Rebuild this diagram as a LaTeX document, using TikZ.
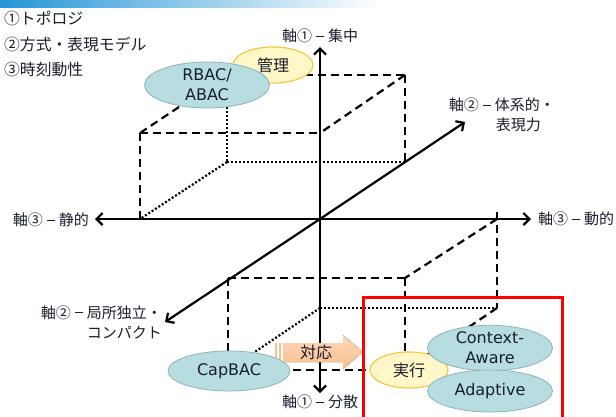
\documentclass[tikz,border=0pt]{standalone}
\usepackage{fontspec}
\setmainfont{Noto Sans CJK JP}
\newfontfamily\latf{DejaVu Sans}
\usetikzlibrary{arrows.meta,shapes.geometric}
\definecolor{tealfill}{RGB}{183,221,224}
\definecolor{tealline}{RGB}{140,180,186}
\definecolor{yelfill}{RGB}{255,247,200}
\definecolor{yelline}{RGB}{245,200,70}
\definecolor{peach}{RGB}{250,192,143}
\definecolor{peachlt}{RGB}{252,215,185}
\definecolor{txt}{RGB}{25,30,45}
\definecolor{barblue}{RGB}{35,150,215}
\newcommand{\axdash}{\makebox[16pt][c]{\rule[0.32em]{8pt}{1.3pt}}}
\tikzset{
  axisline/.style={line width=2.2pt,-{Straight Barb[length=6pt,width=12pt]}},
  dashedge/.style={line width=2.2pt,dash pattern=on 8pt off 5pt},
  dotedge/.style={line width=2.2pt,dash pattern=on 2pt off 2pt},
  axlabel/.style={font=\fontsize{15}{20}\selectfont,text=txt,inner sep=0pt},
  legend/.style={font=\fontsize{15.8}{18}\selectfont,text=txt,anchor=west,inner sep=0pt},
  tealell/.style={ellipse,draw=tealline,fill=tealfill,line width=0.8pt,inner sep=0pt,text=txt,align=center,font=\latf\fontsize{16}{20}\selectfont},
  yelell/.style={ellipse,draw=yelline,fill=yelfill,line width=1.2pt,inner sep=0pt,text=txt,font=\fontsize{16}{20}\selectfont}
}
\begin{document}
\begin{tikzpicture}[x=1pt,y=-1pt]
\useasboundingbox (0,0) rectangle (616,416);
\fill[white] (0,0) rectangle (616,416);
% top bar
\shade[left color=barblue,right color=white] (0,0) rectangle (380,7);

% legend
\node[legend] (l1) at (4,18) {①トポロジ};
\node[legend] (l2) at (4,44) {②方式・表現モデル};
\node[legend] (l3) at (4,69) {③時刻動性};

% coordinates
\coordinate (O) at (320,219);
% upper cube
\coordinate (UFTL) at (140,133);
\coordinate (UFTR) at (320,133);
\coordinate (UFBL) at (140,219);
\coordinate (UBTL) at (227,75);
\coordinate (UBTR) at (405,75);
\coordinate (UBBL) at (227,162);
\coordinate (UBBR) at (405,162);
% lower cube
\coordinate (LBTR) at (497,219);
\coordinate (LBBL) at (320,308);
\coordinate (LBBR) at (497,308);
\coordinate (LFTL) at (228,278);
\coordinate (LFTR) at (405,278);
\coordinate (LFBL) at (228,370);
\coordinate (LFBR) at (405,370);

% upper cube edges
\draw[dashedge] (UFTL) -- (UFTR);
\draw[dashedge] (UFTL) -- ([yshift=-3pt]UFBL);
\draw[dashedge] (UFTL) -- (UBTL);
\draw[dashedge] (UBTL) -- (UBTR);
\draw[dashedge] (UBTR) -- (UFTR);
\draw[dashedge] (UBTR) -- (UBBR);
\draw[dotedge] (UBTL) -- (UBBL);
\draw[dotedge] (UBBL) -- (UBBR);
\draw[dotedge] (UBBL) -- (UFBL);

% lower cube edges
\draw[dashedge] ([yshift=7pt]LBTR) -- (LBBR);
\draw[dashedge] (LBTR) -- (LFTR);
\draw[dashedge] (LFTL) -- (LFTR);
\draw[dashedge] (LFTL) -- (LFBL);
\draw[dashedge] (LFTR) -- (LFBR);
\draw[dashedge] (LFBL) -- (LFBR);
\draw[dashedge] (LBBR) -- (LFBR);
\draw[dotedge] (LBBL) -- (LBBR);
\draw[dotedge] (LBBL) -- (LFBL);

% axis end coordinates
\coordinate (A1t) at (320,47);
\coordinate (A1b) at (320,393);
\coordinate (A3l) at (95,219);
\coordinate (A3r) at (531,219);
\coordinate (A2u) at (465,122);
\coordinate (A2d) at (165,322);

\draw[axisline] (O) -- (A1t);
\draw[axisline] (O) -- (A1b);
\draw[axisline] (O) -- (A3l);
\draw[axisline] (O) -- (A3r);
\draw[axisline] (O) -- (A2u);
\draw[axisline] (O) -- (A2d);

% axis labels
\node[axlabel] (t1) at (320,36) {軸①\axdash 集中};
\node[axlabel] (b1) at (320,402) {軸①\axdash 分散};
\node[axlabel,anchor=east] (w3) at (89,220) {軸③\axdash 静的};
\node[axlabel,anchor=west] (e3) at (538,219) {軸③\axdash 動的};
\node[axlabel,anchor=east,align=right] (u2) at (555,115) {軸②\axdash 体系的・\\表現力\hspace*{14pt}};
\node[axlabel,anchor=east,align=right] (d2) at (162,322) {軸②\axdash 局所独立・\\コンパクト};

% ellipses
\node[yelell,minimum width=80pt,minimum height=36pt] (kanri) at (273,65) {管理};
\node[tealell,minimum width=125pt,minimum height=46pt] (rbac) at (207,85) {RBAC/\\ABAC};

% 対応 arrow
\fill[top color=peachlt,bottom color=peach] (283,343) -- (343,343) -- (343,335) -- (363,352) -- (343,369) -- (343,362) -- (283,362) -- cycle;
\fill[peach] (275,343) rectangle (277,362);
\fill[peach] (279,343) rectangle (281,362);
\node[font=\fontsize{16}{20}\selectfont,text=txt,inner sep=0pt] (taiou) at (316,352) {対応};

\node[tealell,minimum width=122pt,minimum height=40pt] (cap) at (229,371) {CapBAC};
\node[yelell,minimum width=78pt,minimum height=36pt] (jikko) at (409,370) {実行};
\node[tealell,minimum width=125pt,minimum height=44pt] (ctx) at (490,348) {Context-\\Aware};
\node[tealell,minimum width=125pt,minimum height=42pt] (adp) at (490,391) {Adaptive};

% red frame
\draw[red,line width=3pt] (363,420) -- (363,297) -- (562,297) -- (562,420);
\end{tikzpicture}
\end{document}
